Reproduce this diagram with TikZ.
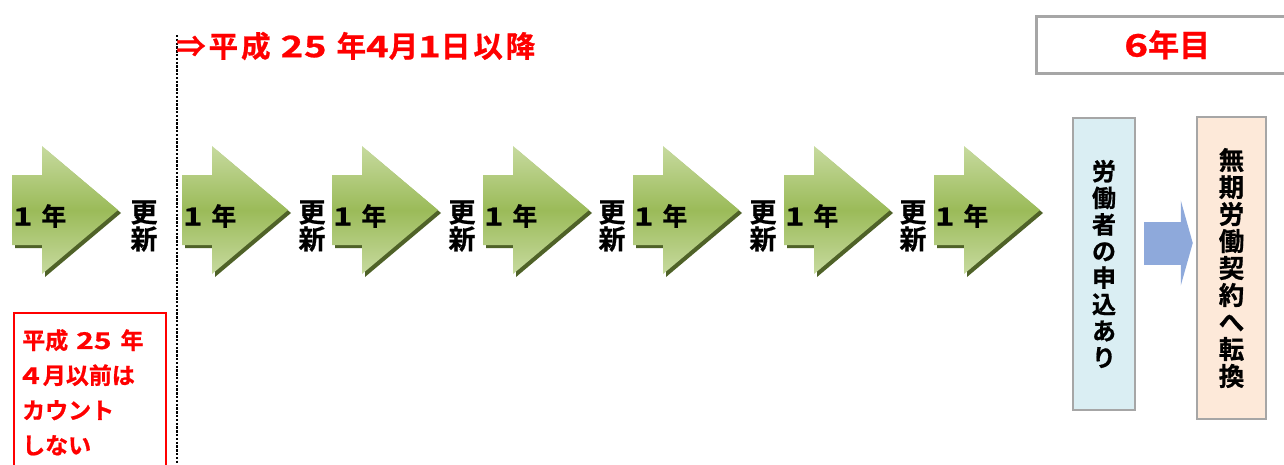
\documentclass[tikz,border=0pt]{standalone}
\usepackage{fontspec}
\setmainfont{Noto Sans CJK JP}[BoldFont={* Bold}, BoldFeatures={FakeBold=0.8}]
\usepackage{xcolor}
\usepackage{graphicx}
\usepackage{tikz}
\usetikzlibrary{positioning, calc, arrows.meta}

\definecolor{arrowgreen}{HTML}{9BBB59}
\definecolor{arrowlight}{HTML}{C7DA9F}
\definecolor{arrowshadow}{HTML}{4F6228}
\definecolor{askblue}{HTML}{DAEEF3}
\definecolor{convpeach}{HTML}{FDE9D9}
\definecolor{flowblue}{HTML}{8EA9DB}
\definecolor{framegray}{HTML}{A6A6A6}

\newcommand{\widedigits}[1]{\scalebox{1.3}[1]{#1}}

\tikzset{
    yeartext/.style={font=\bfseries\fontsize{25}{25}\selectfont, inner sep=0pt, anchor=west},
    renewtext/.style={font=\bfseries\fontsize{27}{27}\selectfont, align=center, inner sep=0pt},
    tatebox/.style={draw=framegray, line width=2.5pt, inner sep=0pt, align=center},
    redtext/.style={text=red, font=\bfseries\fontsize{31}{31}\selectfont, inner sep=0pt}
}

\begin{document}
\begin{tikzpicture}[x=1pt, y=-1pt]
    \useasboundingbox (0,0) rectangle (1284,464);

    % green yearly arrows
    \foreach \x [count=\i] in {12,182,332,483,633,784,934} {
        \fill[arrowshadow, shift={(\x+3,3)}]
            (0,175) -- (30,175) -- (30,146) -- (106,210) -- (30,274) -- (30,245) -- (0,245) -- cycle;
        \shade[top color=arrowlight, bottom color=arrowlight, middle color=arrowgreen, shift={(\x,0)}]
            (0,175) -- (30,175) -- (30,146) -- (106,210) -- (30,274) -- (30,245) -- (0,245) -- cycle;
        \node[yeartext] (year\i) at (\x+1,216) {\widedigits{1}\hspace{9pt}年};
    }

    % renewals
    \foreach \x [count=\i] in {144,312,462,612,763,913} {
        \node[renewtext] (renew\i) at (\x,226) {更\\新};
    }

    % cut-off line
    \coordinate (cuttop) at (177,35);
    \coordinate (cutbottom) at (177,464);
    \draw[line width=2.6pt, dash pattern=on 2.4pt off 1.4pt] (cuttop) -- (cutbottom);
    \node[text=red, inner sep=0pt, anchor=west,
          font=\bfseries\fontsize{29.5}{29.5}\selectfont\addfontfeature{LetterSpace=10}] (after) at (176,46)
        {⇒平成\hspace{10pt}\widedigits{{\addfontfeature{LetterSpace=2}25}}\hspace{10pt}年\widedigits{4}月\widedigits{1}日以降};

    % before April 2013
    \node[draw=red, line width=2pt, anchor=north west, minimum width=152, minimum height=170,
          inner sep=0pt] (before) at (13,312) {};
    \node[anchor=north west, text=red, align=left, inner sep=0pt,
          font=\bfseries\fontsize{23}{35}\selectfont] (beforetext) at (22,329)
        {平成\hspace{8pt}\widedigits{25}\hspace{9pt}年\\\widedigits{4}\hspace{3pt}月以前は\\カウント\\しない};

    % sixth year
    \node[draw=framegray, line width=2.5pt, anchor=north west, minimum width=262, minimum height=57,
          redtext] (sixth) at (1035,15) {\widedigits{6}年目};

    % request and conversion
    \node[tatebox, fill=askblue, minimum width=62, minimum height=292,
          font=\bfseries\fontsize{24}{26.6}\selectfont] (ask) at (1104,264)
        {労\\働\\者\\の\\申\\込\\あ\\り};
    \node[tatebox, fill=convpeach, minimum width=69, minimum height=302,
          font=\bfseries\fontsize{25.5}{27}\selectfont] (conv) at (1231.5,268)
        {無\\期\\労\\働\\契\\約\\へ\\転\\換};

    \coordinate (flowy) at (0,243);
    \draw[flowblue, line width=43pt, shorten <=8pt, shorten >=3pt,
          -{Triangle[length=12pt, width=85pt]}] (ask.east |- flowy) -- (conv.west |- flowy);
\end{tikzpicture}
\end{document}
